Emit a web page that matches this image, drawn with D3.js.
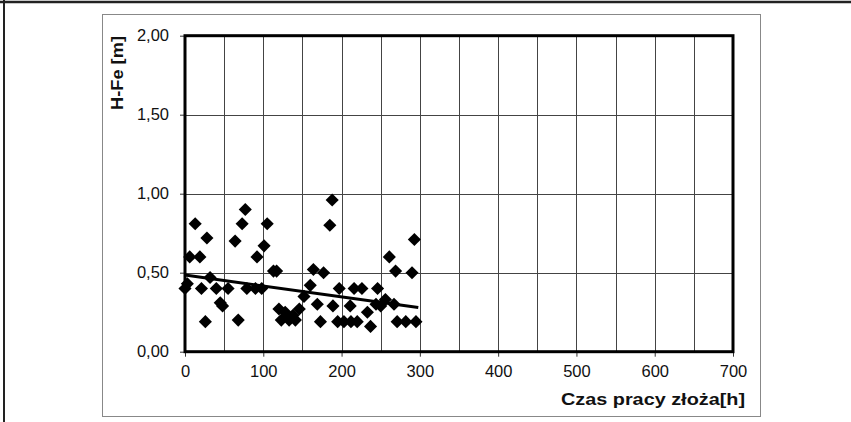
<!DOCTYPE html>
<html>
<head>
<meta charset="utf-8">
<script src="https://cdn.jsdelivr.net/npm/d3@7"></script>
<style>
  body { margin: 0; background: #fff; }
  text { font-family: "Liberation Sans", Arial, sans-serif; fill: #111; }
</style>
</head>
<body>
<svg class="chart" width="851" height="422"></svg>
<script>
const width = 851;
const height = 422;

// data
const hours = [0, 3, 6, 13, 19, 21, 26, 28, 32, 40, 45, 48, 55, 64, 68, 73, 77, 79, 90, 92,
  98, 101, 105, 113, 117, 120, 123, 128, 133, 138, 141, 146, 152, 160, 164, 169, 173, 177,
  185, 188, 189, 195, 197, 203, 211, 212, 216, 220, 226, 233, 237, 244, 246, 250, 256, 261,
  267, 269, 271, 282, 290, 293, 295];
const hfe = [0.40, 0.43, 0.60, 0.81, 0.60, 0.40, 0.19, 0.72, 0.47, 0.40, 0.31, 0.29, 0.40,
  0.70, 0.20, 0.81, 0.90, 0.40, 0.40, 0.60, 0.40, 0.67, 0.81, 0.51, 0.51, 0.27, 0.20, 0.25,
  0.20, 0.23, 0.20, 0.27, 0.35, 0.42, 0.52, 0.30, 0.19, 0.50, 0.80, 0.96, 0.29, 0.19, 0.40,
  0.19, 0.29, 0.19, 0.40, 0.19, 0.40, 0.25, 0.16, 0.30, 0.40, 0.29, 0.33, 0.60, 0.30, 0.51,
  0.19, 0.19, 0.50, 0.71, 0.19];
const trendX = [0, 298];
const trendY = [0.485, 0.28];

const xTicks = [0, 100, 200, 300, 400, 500, 600, 700];
const xGrid = d3.range(50, 700, 50);
const yTicks = [0, 0.5, 1, 1.5, 2];

const svg = d3.select(".chart");

const plot = { left: 185, right: 733, top: 35.7, bottom: 351.7 };

const x = d3.scaleLinear().domain([0, 700]).range([plot.left, plot.right]);
const y = d3.scaleLinear().domain([0, 2]).range([plot.bottom, plot.top]);

const fmt = d => d3.format(".2f")(d).replace(".", ",");

// page borders
svg.append("line").attr("x1", 0).attr("x2", width).attr("y1", 2).attr("y2", 2)
  .attr("stroke", "#222").attr("stroke-width", 2.5);
svg.append("line").attr("x1", 4).attr("x2", 4).attr("y1", 0).attr("y2", height)
  .attr("stroke", "#222").attr("stroke-width", 2);

// chart area frame
svg.append("rect")
  .attr("x", 102.5).attr("y", 14.5).attr("width", 658).attr("height", 402)
  .attr("fill", "none").attr("stroke", "#888").attr("stroke-width", 1);

// grid
svg.append("g").selectAll("line").data(xGrid).enter().append("line")
  .attr("x1", d => Math.round(x(d)) + 0.5).attr("x2", d => Math.round(x(d)) + 0.5)
  .attr("y1", plot.top).attr("y2", plot.bottom)
  .attr("stroke", "#444").attr("stroke-width", 1);
svg.append("g").selectAll("line").data(yTicks.slice(1, -1)).enter().append("line")
  .attr("x1", plot.left).attr("x2", plot.right)
  .attr("y1", d => Math.round(y(d)) + 0.5).attr("y2", d => Math.round(y(d)) + 0.5)
  .attr("stroke", "#444").attr("stroke-width", 1);

// axes
const xAxis = svg.append("g")
  .attr("transform", `translate(0,${plot.bottom})`)
  .call(d3.axisBottom(x).tickValues(xTicks).tickSize(5).tickPadding(9).tickSizeOuter(0));
const yAxis = svg.append("g")
  .attr("transform", `translate(${plot.left},0)`)
  .call(d3.axisLeft(y).tickValues(yTicks).tickFormat(fmt).tickSize(5).tickPadding(11).tickSizeOuter(0));

[xAxis, yAxis].forEach(a => {
  a.select(".domain").remove();
  a.selectAll(".tick line").attr("stroke", "#333");
  a.selectAll(".tick text").attr("font-size", 16.5).attr("fill", "#111")
    .attr("font-family", "Liberation Sans, Arial, sans-serif");
});

// plot frame (thick)
svg.append("rect")
  .attr("x", plot.left).attr("y", plot.top)
  .attr("width", plot.right - plot.left).attr("height", plot.bottom - plot.top)
  .attr("fill", "none").attr("stroke", "#000").attr("stroke-width", 3);

// points
const points = hours.map((h, i) => ({ h, v: hfe[i] }));
svg.append("g").selectAll("path").data(points).enter().append("path")
  .attr("d", d3.symbol(d3.symbolSquare, 86))
  .attr("transform", d => `translate(${x(d.h)},${y(d.v)}) rotate(45)`)
  .attr("fill", "#000");

// trend line
svg.append("path")
  .datum(trendX.map((t, i) => [t, trendY[i]]))
  .attr("d", d3.line().x(d => x(d[0])).y(d => y(d[1])))
  .attr("fill", "none").attr("stroke", "#000").attr("stroke-width", 3);

// axis titles
svg.append("text")
  .attr("x", 745).attr("y", 405)
  .attr("text-anchor", "end")
  .attr("font-size", 17).attr("font-weight", "bold")
  .attr("textLength", 184).attr("lengthAdjust", "spacingAndGlyphs")
  .text("Czas pracy złoża[h]");

svg.append("text")
  .attr("transform", "translate(123,110) rotate(-90)")
  .attr("text-anchor", "start")
  .attr("font-size", 17).attr("font-weight", "bold")
  .attr("textLength", 74).attr("lengthAdjust", "spacingAndGlyphs")
  .text("H-Fe [m]");
</script>
</body>
</html>
